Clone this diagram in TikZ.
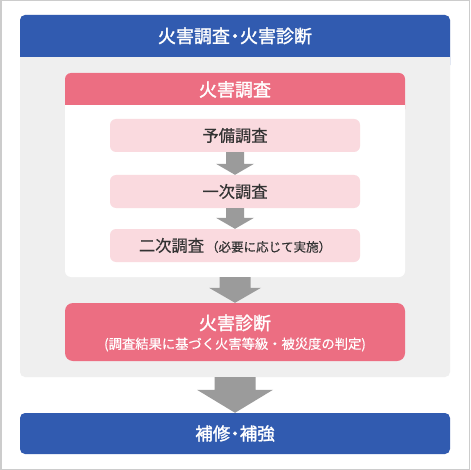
\documentclass[tikz,border=0pt]{standalone}
\usepackage{fontspec}
\setmainfont{Noto Sans CJK JP}
\newfontfamily\semibold[FakeBold=1.6]{Noto Sans CJK JP}
\newfontfamily\softbold[FakeBold=0.5]{Noto Sans CJK JP}
\usetikzlibrary{calc}
\definecolor{hdrblue}{HTML}{315BB0}
\definecolor{panelgray}{HTML}{EFEFEF}
\definecolor{hdrpink}{HTML}{EC6E82}
\definecolor{lightpink}{HTML}{FADADF}
\definecolor{arrowgray}{HTML}{9B9B9B}
\definecolor{bordergray}{HTML}{CCCCCC}
\definecolor{darktext}{HTML}{333333}
\newcommand\blockarr[5]{%
  \fill[arrowgray] let \p1=(#1), \p2=(#2) in
    (\x1-#3pt,\y1) -- (\x1+#3pt,\y1) -- (\x1+#3pt,\y2+#5pt) -- (\x1+#4pt,\y2+#5pt)
    -- (\x1,\y2) -- (\x1-#4pt,\y2+#5pt) -- (\x1-#3pt,\y2+#5pt) -- cycle;}
\newcommand\ndot{\kern-4pt・\kern-4pt}
\begin{document}
\begin{tikzpicture}[x=1pt,y=-1pt,
  stepbox/.style={fill=lightpink,rounded corners=6pt,minimum width=250pt,minimum height=33pt,
    inner sep=0pt,text=darktext,font=\softbold\fontsize{16.3}{18}\selectfont},
  whitetitle/.style={text=white,font=\semibold\fontsize{18}{20}\selectfont,inner sep=0pt}]
\useasboundingbox (0,0) rectangle (470,470);
\fill[white] (0,0) rectangle (470,470);
\draw[bordergray,line width=1.5pt] (0.75,0.75) rectangle (469.25,469.25);
% outer panel
\fill[panelgray,rounded corners=5pt] (20,15) rectangle (450,377);
\fill[hdrblue,rounded corners=5pt] (20,15) rectangle (450,70);
\fill[panelgray] (20,57) rectangle (450,80);
\node[whitetitle] (title) at (235,36) {火害調査\ndot 火害診断};
\coordinate (panelbot) at (235,377);
% inner white box
\fill[white,rounded corners=6pt] (65,73) rectangle (405,277);
\fill[hdrpink,rounded corners=6pt] (65,73) rectangle (405,115);
\fill[white] (65,105) rectangle (405,125);
\node[whitetitle] (survey) at (235,89.5) {火害調査};
\coordinate (whitebot) at (235,277);
% steps
\node[stepbox] (pre) at (235,135.5) {予備調査};
\node[stepbox] (one) at (235,191.5) {一次調査};
\node[stepbox] (two) at (235,245.5) {二次調査\hspace{2pt}{\fontsize{12.5}{14}\selectfont （必要に応じて実施）}};
% diagnosis
\node[fill=hdrpink,rounded corners=8pt,minimum width=340pt,minimum height=58pt,inner sep=0pt] (diag) at (235,332) {};
\node[whitetitle] (diagtitle) at (235,323) {火害診断};
\node[text=white,inner sep=0pt,font=\softbold\fontsize{13.3}{16}\selectfont] (diagsub) at (235,344.5) {(調査結果に基づく火害等級・被災度の判定)};
% repair
\node[fill=hdrblue,rounded corners=5pt,minimum width=430pt,minimum height=41pt,inner sep=0pt,
  text=white,font=\semibold\fontsize{17.5}{20}\selectfont] (repair) at (235,433.5) {補修\ndot 補強};
% arrows
\blockarr{pre.south}{one.north}{9}{19}{11}
\blockarr{one.south}{two.north}{9}{19}{11}
\blockarr{whitebot}{diag.north}{15.5}{26}{15}
\blockarr{panelbot}{repair.north}{20.5}{38}{23}
\end{tikzpicture}
\end{document}
